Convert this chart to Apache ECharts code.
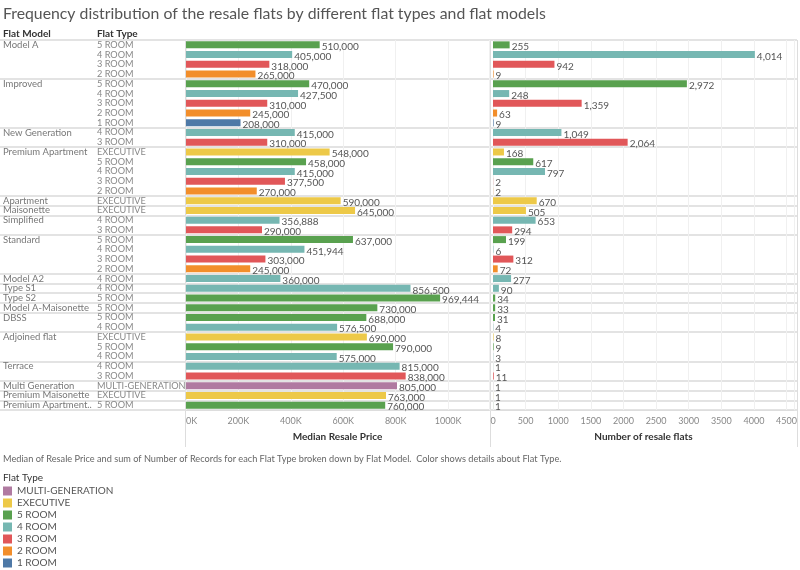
<!DOCTYPE html>
<html><head><meta charset="utf-8">
<script src="https://cdn.jsdelivr.net/npm/echarts@6/dist/echarts.min.js"></script>
<style>html,body{margin:0;padding:0;background:#fff}#c{width:800px;height:570px}</style>
</head><body><div id="c"></div>
<script>
const flatModel = ['Model A','Model A','Model A','Model A',
  'Improved','Improved','Improved','Improved','Improved',
  'New Generation','New Generation',
  'Premium Apartment','Premium Apartment','Premium Apartment','Premium Apartment','Premium Apartment',
  'Apartment','Maisonette','Simplified','Simplified',
  'Standard','Standard','Standard','Standard',
  'Model A2','Type S1','Type S2','Model A-Maisonette','DBSS','DBSS',
  'Adjoined flat','Adjoined flat','Adjoined flat','Terrace','Terrace',
  'Multi Generation','Premium Maisonette','Premium Apartment..'];
const flatType = ['5 ROOM','4 ROOM','3 ROOM','2 ROOM',
  '5 ROOM','4 ROOM','3 ROOM','2 ROOM','1 ROOM',
  '4 ROOM','3 ROOM',
  'EXECUTIVE','5 ROOM','4 ROOM','3 ROOM','2 ROOM',
  'EXECUTIVE','EXECUTIVE','4 ROOM','3 ROOM',
  '5 ROOM','4 ROOM','3 ROOM','2 ROOM',
  '4 ROOM','4 ROOM','5 ROOM','5 ROOM','5 ROOM','4 ROOM',
  'EXECUTIVE','5 ROOM','4 ROOM','4 ROOM','3 ROOM',
  'MULTI-GENERATION','EXECUTIVE','5 ROOM'];
const medianPrice = [510000,405000,318000,265000,
  470000,427500,310000,245000,208000,
  415000,310000,
  548000,458000,415000,377500,270000,
  590000,645000,356888,290000,
  637000,451944,303000,245000,
  360000,856500,969444,730000,688000,576500,
  690000,790000,575000,815000,838000,
  805000,763000,760000];
const numFlats = [255,4014,942,9,
  2972,248,1359,63,9,
  1049,2064,
  168,617,797,2,2,
  670,505,653,294,
  199,6,312,72,
  277,90,34,33,31,4,
  8,9,3,1,11,
  1,1,1];
const typeOrder = ['MULTI-GENERATION','EXECUTIVE','5 ROOM','4 ROOM','3 ROOM','2 ROOM','1 ROOM'];
const typeColors = ['#b07aa1','#edc948','#59a14f','#76b7b2','#e15759','#f28e2b','#4e79a7'];
const priceAxis = {min:0, max:1156000, interval:200000};
const countAxis = {min:0, max:4612, interval:500};

const FONT = 'Lato';
const rowKeys = flatModel.map((m,i)=>m+'|'+flatType[i]);
const isGroupStart = i => i===0 || flatModel[i]!==flatModel[i-1];
const fmt = v => String(Math.round(v)).replace(/\B(?=(\d{3})+(?!\d))/g, ',');

const chart = echarts.init(document.getElementById('c'));
const series = [];
typeOrder.forEach((t,ti)=>{
  [[medianPrice,0],[numFlats,1]].forEach(([vals,ax])=>{
    series.push({
      type:'bar', name:t, xAxisIndex:ax, yAxisIndex:ax,
      barWidth:7, barGap:'-100%',
      itemStyle:{color:typeColors[ti]},
      label:{show:true, position:'right', distance:2, offset:[0,2], fontFamily:FONT, fontSize:10, color:'#555',
        formatter:p=>fmt(p.value)},
      data: vals.map((v,i)=> flatType[i]===t ? v : null)
    });
  });
});

chart.setOption({
  animation:false,
  textStyle:{fontFamily:FONT},
  title:{text:'Frequency distribution of the resale flats by different flat types and flat models',
    left:3, top:6, padding:0, textStyle:{fontFamily:FONT, fontSize:15.8, fontWeight:'normal', color:'#555'}},
  grid:[
    {left:186, top:40, width:303, height:370},
    {left:493, top:40, width:304, height:370},
    {left:0, top:40, width:797, height:370}
  ],
  xAxis:[
    {type:'value', gridIndex:0, min:priceAxis.min, max:priceAxis.max, interval:priceAxis.interval,
      axisLine:{show:true, lineStyle:{color:'#ddd'}}, axisTick:{show:false},
      axisLabel:{fontSize:9, color:'#888', margin:7, showMaxLabel:false, alignMinLabel:'left',
        formatter:v=> v%priceAxis.interval===0 ? (v/1000)+'K' : ''},
      splitLine:{lineStyle:{color:'#f0f0f0'}},
      name:'Median Resale Price', nameLocation:'middle', nameGap:22,
      nameTextStyle:{fontSize:10, fontWeight:'bold', color:'#333'}},
    {type:'value', gridIndex:1, min:countAxis.min, max:countAxis.max, interval:countAxis.interval,
      axisLine:{show:true, lineStyle:{color:'#ddd'}}, axisTick:{show:false},
      axisLabel:{fontSize:9, color:'#888', margin:7, showMaxLabel:false,
        formatter:v=> v%countAxis.interval===0 ? String(v) : ''},
      splitLine:{lineStyle:{color:'#f0f0f0'}},
      name:'Number of resale flats', nameLocation:'middle', nameGap:22,
      nameTextStyle:{fontSize:10, fontWeight:'bold', color:'#333'}},
    {type:'value', gridIndex:2, show:false, min:0, max:1}
  ],
  yAxis:[
    {type:'category', gridIndex:0, inverse:true, data:rowKeys,
      axisLine:{show:false}, axisTick:{show:false}, axisLabel:{show:false}},
    {type:'category', gridIndex:1, inverse:true, data:rowKeys,
      axisLine:{show:false}, axisTick:{show:false}, axisLabel:{show:false}},
    {type:'category', gridIndex:2, position:'left', offset:0, inverse:true, data:rowKeys,
      axisLine:{show:false}, axisTick:{show:false},
      axisLabel:{inside:true, margin:3, interval:0, fontSize:9.5, color:'#777',
        formatter:(v,i)=> isGroupStart(i) ? flatModel[i] : ''},
      splitLine:{show:true, interval:(i)=> i>=flatModel.length || isGroupStart(i),
        lineStyle:{color:'#e3e3e3', width:2}}},
    {type:'category', gridIndex:2, position:'left', offset:0, inverse:true, data:rowKeys,
      axisLine:{show:false}, axisTick:{show:false},
      axisLabel:{inside:true, margin:97, interval:0, fontSize:9.2, color:'#888',
        formatter:(v,i)=> flatType[i]}}
  ],
  legend:{data:typeOrder, orient:'vertical', left:3, top:486, padding:0, height:90,
    itemWidth:9, itemHeight:9, itemGap:2,
    icon:'rect', selectedMode:false, textStyle:{fontFamily:FONT, fontSize:10, color:'#555'}},
  graphic:[
    {type:'text', left:3, top:29, style:{text:'Flat Model', font:'bold 10px '+FONT, fill:'#333'}},
    {type:'text', left:97, top:29, style:{text:'Flat Type', font:'bold 10px '+FONT, fill:'#333'}},
    {type:'text', left:3, top:455, style:{text:'Median of Resale Price and sum of Number of Records for each Flat Type broken down by Flat Model.  Color shows details about Flat Type.', font:'9.2px '+FONT, fill:'#666'}},
    {type:'text', left:3, top:473, style:{text:'Flat Type', font:'10px '+FONT, fill:'#333'}},
    {type:'line', shape:{x1:185.5,y1:40,x2:185.5,y2:447}, style:{stroke:'#ddd', lineWidth:1}},
    {type:'line', shape:{x1:490.5,y1:40,x2:490.5,y2:447}, style:{stroke:'#ddd', lineWidth:1}},
    {type:'line', shape:{x1:797.5,y1:40,x2:797.5,y2:447}, style:{stroke:'#ddd', lineWidth:1}}
  ],
  series
});
</script></body></html>
